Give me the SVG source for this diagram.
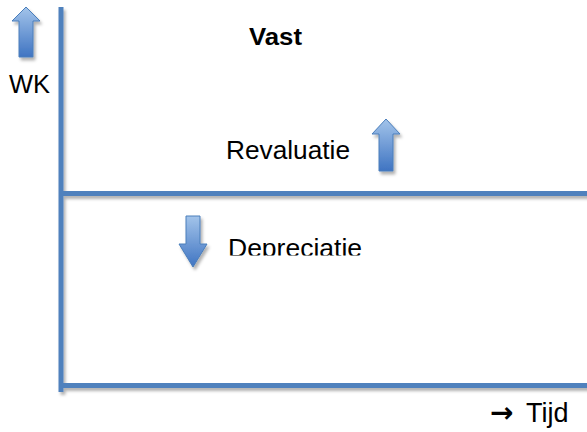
<svg xmlns="http://www.w3.org/2000/svg" width="587" height="432" viewBox="0 0 587 432">
<defs>
<style>
.axis{stroke:#4F81BD;stroke-width:5;fill:none}
.lbl{font-family:"Liberation Sans",Arial,sans-serif;font-size:26px;fill:#000}
.bold{font-weight:bold}
.arrow{fill:url(#arrGrad);stroke:#4A7EBB;stroke-width:1}
</style>
<linearGradient id="arrGrad" x1="0" y1="0" x2="0" y2="1">
<stop offset="0" stop-color="#A3C4EA"/>
<stop offset="1" stop-color="#3F74C2"/>
</linearGradient>
<filter id="shadow" x="-20%" y="-20%" width="140%" height="140%">
<feDropShadow dx="2" dy="3" stdDeviation="1.5" flood-color="#000" flood-opacity="0.3"/>
</filter>
<clipPath id="clipDep"><rect x="200" y="220" width="200" height="35.5"/></clipPath>
</defs>
<rect width="587" height="432" fill="#fff"/>
<g id="connectors" filter="url(#shadow)">
<line class="axis" x1="61" y1="7" x2="61" y2="392"/>
<line class="axis" x1="63" y1="193.5" x2="590" y2="193.5"/>
<line class="axis" x1="63" y1="385.5" x2="590" y2="385.5"/>
</g>
<g id="wk">
<path class="arrow" filter="url(#shadow)" d="M26,7 L40,21 L33,21 L33,57 L19,57 L19,21 L12,21 Z"/>
<text class="lbl" x="9" y="93" textLength="41" lengthAdjust="spacingAndGlyphs">WK</text>
</g>
<g id="vast">
<text class="lbl bold" x="249" y="45" textLength="53" lengthAdjust="spacingAndGlyphs" style="font-size:24px">Vast</text>
</g>
<g id="revaluatie">
<text class="lbl" x="226" y="159" textLength="124" lengthAdjust="spacingAndGlyphs">Revaluatie</text>
<path class="arrow" filter="url(#shadow)" d="M386,119 L400,134 L393,134 L393,171 L379,171 L379,134 L372,134 Z"/>
</g>
<g id="depreciatie">
<path class="arrow" filter="url(#shadow)" d="M186,216 L200,216 L200,244 L207,244 L193,267 L179,244 L186,244 Z"/>
<text class="lbl" x="228" y="257" textLength="134" lengthAdjust="spacingAndGlyphs" clip-path="url(#clipDep)">Depreciatie</text>
</g>
<g id="tijd">
<text class="lbl" y="422"><tspan x="490" style="font-family:'DejaVu Sans',sans-serif;font-weight:bold;font-size:28px">→</tspan><tspan x="519" style="font-size:27px"> Tijd</tspan></text>
</g>
</svg>
